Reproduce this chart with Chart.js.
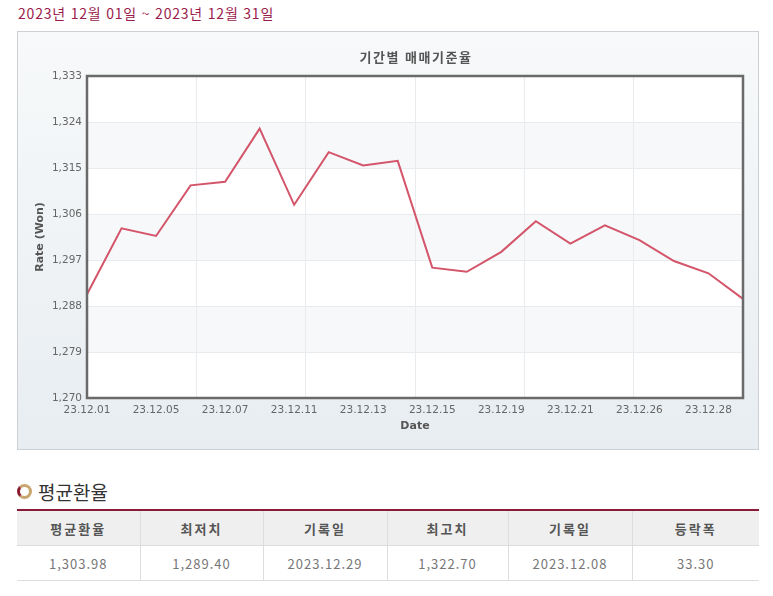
<!DOCTYPE html>
<html lang="ko">
<head>
<meta charset="utf-8">
<script src="https://cdn.jsdelivr.net/npm/chart.js@4"></script>
<style>
  body { margin: 0; background: #fff; font-family: "Noto Sans CJK KR", "Noto Sans", sans-serif; width: 773px; height: 596px; position: relative; overflow: hidden; }
  .period { position: absolute; left: 18px; top: 3px; font-size: 14px; color: #9b1b4b; letter-spacing: 0.8px; }
  .panel { position: absolute; left: 17px; top: 31px; width: 742px; height: 419px; box-sizing: border-box; border: 1px solid #ccd0d4;
           background: linear-gradient(#f7f9fa, #e8edf1); }
  .panel canvas { position: absolute; left: -1px; top: -1px; }
  .ctitle { position: absolute; left: 70px; width: 656px; top: 15px; text-align: center; font-size: 13px; font-weight: bold; color: #555; letter-spacing: 1.5px; }
  .head { position: absolute; left: 17px; top: 478px; font-size: 19px; color: #333; }
  .head i { display: inline-block; width: 9px; height: 9px; border: 3px solid #c9a56f; border-left-color: #8b1a2e; border-radius: 50%; margin-right: 6px; vertical-align: 1px; }
  table { position: absolute; left: 17px; top: 509px; width: 742px; table-layout: fixed; border-collapse: collapse; border-top: 2px solid #8b1a3a; font-size: 13px; }
  th, td { height: 34px; text-align: center; border-left: 1px solid #ddd; border-bottom: 1px solid #ddd; padding: 0; letter-spacing: 1px; }
  th:first-child, td:first-child { border-left: none; }
  th { background: #efefef; color: #555; font-weight: bold; letter-spacing: 2px; }
  td { color: #777; }
</style>
</head>
<body>
<div class="period">2023년 12월 01일 ~ 2023년 12월 31일</div>
<div class="panel">
  <canvas id="rateChart" width="742" height="419"></canvas>
  <div class="ctitle">기간별 매매기준율</div>
</div>
<div class="head"><i></i>평균환율</div>
<table>
  <colgroup><col style="width:123px"><col style="width:123px"><col style="width:124px"><col style="width:121px"><col style="width:124px"><col style="width:127px"></colgroup>
  <tr><th>평균환율</th><th>최저치</th><th>기록일</th><th>최고치</th><th>기록일</th><th>등락폭</th></tr>
  <tr><td>1,303.98</td><td>1,289.40</td><td>2023.12.29</td><td>1,322.70</td><td>2023.12.08</td><td>33.30</td></tr>
</table>

<script>
// business days of december 2023
const dates = [
  '23.12.01', '23.12.04', '23.12.05', '23.12.06', '23.12.07', '23.12.08', '23.12.11',
  '23.12.12', '23.12.13', '23.12.14', '23.12.15', '23.12.18', '23.12.19', '23.12.20',
  '23.12.21', '23.12.22', '23.12.26', '23.12.27', '23.12.28', '23.12.29'
];
const rates = [
  1290.3, 1303.2, 1301.7, 1311.6, 1312.3, 1322.7, 1307.8,
  1318.1, 1315.5, 1316.4, 1295.5, 1294.7, 1298.6, 1304.6,
  1300.2, 1303.8, 1300.9, 1296.8, 1294.4, 1289.4
];
const yMin = 1270;
const yMax = 1333;
const yStep = 9;

const tickColor = '#666';
const tickFont = { family: 'DejaVu Sans', size: 10.5 };

// plot background, alternate bands and frame
const plotFrame = {
  id: 'plotFrame',
  beforeDraw(chart) {
    const { ctx, chartArea: a, scales } = chart;
    const y = scales.y;
    ctx.save();
    ctx.fillStyle = '#fff';
    ctx.fillRect(a.left, a.top, a.width, a.height);
    ctx.fillStyle = '#f6f8fa';
    const ticks = y.ticks;
    for (let i = 1; i < ticks.length - 1; i += 2) {
      const p1 = y.getPixelForValue(ticks[i].value);
      const p2 = y.getPixelForValue(ticks[i + 1].value);
      ctx.fillRect(a.left, p2, a.width, p1 - p2);
    }
    ctx.restore();
  },
  afterDatasetsDraw(chart) {
    const { ctx, chartArea: a } = chart;
    ctx.save();
    ctx.strokeStyle = '#6a6a6a';
    ctx.lineWidth = 2.5;
    ctx.strokeRect(a.left, a.top, a.width, a.height);
    ctx.restore();
  }
};

new Chart(document.getElementById('rateChart'), {
  type: 'line',
  data: {
    labels: dates,
    datasets: [{
      data: rates,
      borderColor: '#d4556a',
      borderWidth: 2,
      pointRadius: 0,
      tension: 0
    }]
  },
  options: {
    responsive: false,
    animation: false,
    layout: { padding: { left: 0, top: 45, right: 16, bottom: 0 } },
    plugins: { legend: { display: false }, tooltip: { enabled: false } },
    scales: {
      x: {
        offset: false,
        grid: { display: false, drawTicks: false },
        border: { display: false },
        ticks: {
          color: tickColor, font: tickFont, padding: 6,
          autoSkip: false, maxRotation: 0,
          callback: (v, i) => (i % 2 === 0 ? dates[i] : '')
        },
        title: { display: true, text: 'Date', color: '#555', font: { family: 'DejaVu Sans', size: 11, weight: 'bold' }, padding: { top: 0, bottom: 17 } },
        afterFit: (s) => { s.height = 52; }
      },
      xg: {
        type: 'linear', position: 'top', min: 0, max: 6,
        ticks: { display: false, stepSize: 1 },
        grid: { color: '#e9ecef', drawTicks: false },
        border: { display: false },
        afterFit: (s) => { s.height = 0; }
      },
      y: {
        min: yMin, max: yMax,
        grid: { color: '#e9ecef', drawTicks: false },
        border: { display: false },
        ticks: {
          stepSize: yStep, color: tickColor, font: tickFont, padding: 5,
          callback: (v) => v.toLocaleString('en-US')
        },
        title: { display: true, text: 'Rate (Won)', color: '#555', font: { family: 'DejaVu Sans', size: 11, weight: 'bold' }, padding: { top: 17, bottom: 0 } },
        afterFit: (s) => { s.width = 70; }
      }
    }
  },
  plugins: [plotFrame]
});
</script>
</body>
</html>
